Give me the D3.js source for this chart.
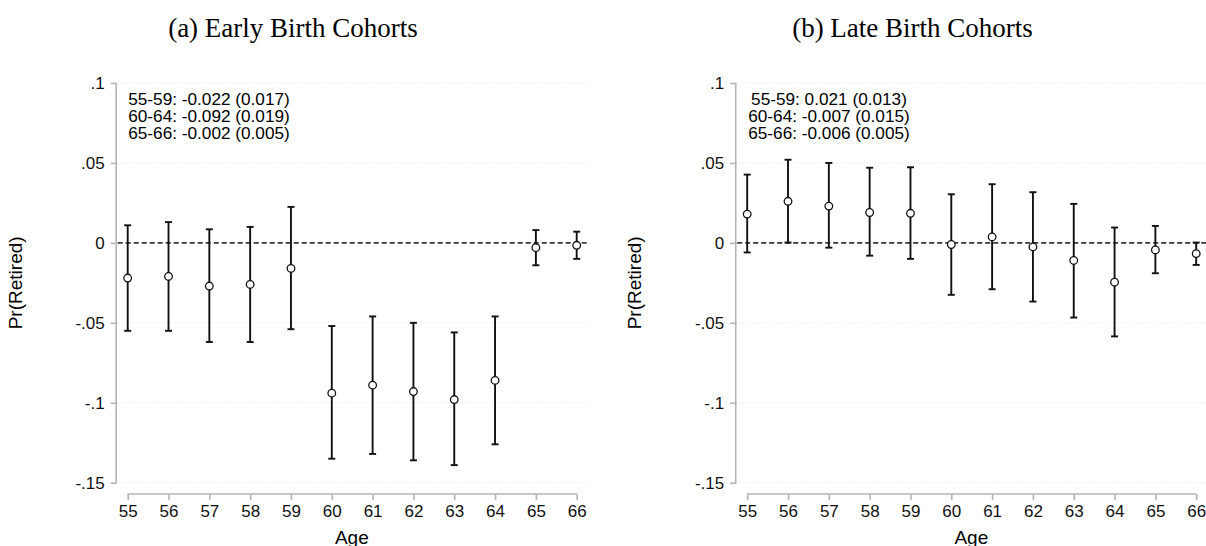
<!DOCTYPE html>
<meta charset="utf-8">
<script src="https://d3js.org/d3.v7.min.js"></script>
<style>
    body { margin: 0; background: white; }
    text { font-family: "Liberation Sans", Arial, sans-serif; fill: #000; }
    .title { font-family: "Liberation Serif", "Times New Roman", serif; font-size: 27px; }
</style>
<div id="my_dataviz"></div>
<script>
// ages on the x axis
var ages = [55, 56, 57, 58, 59, 60, 61, 62, 63, 64, 65, 66];
var yTicks = [0.1, 0.05, 0, -0.05, -0.1, -0.15];
var yTickLabels = [".1", ".05", "0", "-.05", "-.1", "-.15"];

// (a) early birth cohorts: point estimates and 95% CI
var earlyEst = [-0.022, -0.021, -0.027, -0.026, -0.016, -0.094, -0.089, -0.093, -0.098, -0.086, -0.003, -0.0015];
var earlyLo  = [-0.055, -0.055, -0.062, -0.062, -0.054, -0.135, -0.132, -0.136, -0.139, -0.126, -0.014, -0.010];
var earlyHi  = [0.011, 0.013, 0.0085, 0.010, 0.0225, -0.052, -0.046, -0.050, -0.056, -0.046, 0.008, 0.007];
var earlyNotes = ["55-59: -0.022 (0.017)", "60-64: -0.092 (0.019)", "65-66: -0.002 (0.005)"];

// (b) late birth cohorts
var lateEst = [0.018, 0.026, 0.023, 0.019, 0.0185, -0.001, 0.0037, -0.0025, -0.011, -0.0246, -0.0044, -0.0067];
var lateLo  = [-0.006, 0.0002, -0.003, -0.008, -0.010, -0.0325, -0.029, -0.0367, -0.0467, -0.0585, -0.019, -0.0138];
var lateHi  = [0.0427, 0.052, 0.050, 0.047, 0.0473, 0.0304, 0.0367, 0.0317, 0.0244, 0.0096, 0.0106, 0.0002];
var lateNotes = ["55-59: 0.021 (0.013)", "60-64: -0.007 (0.015)", "65-66: -0.006 (0.005)"];

var W = 1206, H = 546;

var svg = d3.select("#my_dataviz")
    .append("svg")
    .attr("width", W)
    .attr("height", H);

// scales shared by both panels (panel groups are shifted)
var x = d3.scaleLinear().domain([55, 66]).range([127.7, 576.7]);
var y = d3.scaleLinear().domain([-0.15, 0.1]).range([482.7, 83]);
var axisX = 116.7, gridEnd = 587, xAxisY = 494;

function drawPanel(offset, title, titleX, est, lo, hi, notes, notesX) {
    var g = svg.append("g").attr("transform", "translate(" + offset + ",0)");

    g.append("text").attr("class", "title")
        .attr("x", titleX).attr("y", 37)
        .attr("text-anchor", "middle")
        .text(title);

    // dotted gridlines
    g.append("g").selectAll("line")
        .data(yTicks.filter(function(d) { return d !== 0; }))
        .enter().append("line")
        .attr("x1", axisX + 1).attr("x2", gridEnd)
        .attr("y1", function(d) { return y(d); })
        .attr("y2", function(d) { return y(d); })
        .style("stroke", "#e4e4e4")
        .style("stroke-width", 1)
        .style("stroke-dasharray", "1,2");

    // zero reference line
    g.append("line")
        .attr("x1", axisX + 1).attr("x2", gridEnd)
        .attr("y1", y(0)).attr("y2", y(0))
        .style("stroke", "#3a3a3a")
        .style("stroke-width", 1.6)
        .style("stroke-dasharray", "5,3");

    // Y axis
    var yAxis = g.append("g")
        .attr("transform", "translate(" + axisX + ",0)")
        .call(d3.axisLeft(y).tickValues(yTicks).tickSize(6).tickPadding(6)
            .tickFormat(function(d, i) { return yTickLabels[i]; }));
    yAxis.select(".domain").attr("d", "M-0.5," + y(0.1) + "V" + y(-0.15));

    // X axis
    var xAxis = g.append("g")
        .attr("transform", "translate(0," + xAxisY + ")")
        .call(d3.axisBottom(x).tickValues(ages).tickSize(6).tickPadding(5)
            .tickFormat(d3.format("d")));
    xAxis.select(".domain").attr("d", "M" + x(55) + ",0H" + x(66));

    g.selectAll(".domain, .tick line")
        .style("stroke", "#b4b4b4")
        .style("stroke-width", 1.6);
    g.selectAll(".tick text")
        .style("font-size", "17px")
        .style("fill", "#111")
        .style("font-family", "'Liberation Sans', Arial, sans-serif");

    // axis titles
    g.append("text")
        .attr("transform", "translate(15," + ((y(0.1) + y(-0.15)) / 2) + ") rotate(-90)")
        .attr("text-anchor", "middle")
        .attr("dy", "0.35em")
        .style("font-size", "19px")
        .text("Pr(Retired)");
    g.append("text")
        .attr("x", (axisX + gridEnd) / 2).attr("y", 543.5)
        .attr("text-anchor", "middle")
        .style("font-size", "19px")
        .text("Age");

    // error bars
    var bars = g.append("g").selectAll("g")
        .data(ages)
        .enter().append("g");
    bars.append("line")
        .attr("x1", function(d) { return x(d); })
        .attr("x2", function(d) { return x(d); })
        .attr("y1", function(d, i) { return y(hi[i]); })
        .attr("y2", function(d, i) { return y(lo[i]); });
    bars.append("line")
        .attr("x1", function(d) { return x(d) - 3.5; })
        .attr("x2", function(d) { return x(d) + 3.5; })
        .attr("y1", function(d, i) { return y(hi[i]); })
        .attr("y2", function(d, i) { return y(hi[i]); });
    bars.append("line")
        .attr("x1", function(d) { return x(d) - 3.5; })
        .attr("x2", function(d) { return x(d) + 3.5; })
        .attr("y1", function(d, i) { return y(lo[i]); })
        .attr("y2", function(d, i) { return y(lo[i]); });
    bars.selectAll("line")
        .style("stroke", "#111")
        .style("stroke-width", 1.9);

    // point estimates
    g.append("g").selectAll("circle")
        .data(ages)
        .enter().append("circle")
        .attr("cx", function(d) { return x(d); })
        .attr("cy", function(d, i) { return y(est[i]); })
        .attr("r", 3.8)
        .style("fill", "white")
        .style("stroke", "#111")
        .style("stroke-width", 1.3);

    // summary notes
    g.append("g").selectAll("text")
        .data(notes)
        .enter().append("text")
        .attr("x", notesX)
        .attr("y", function(d, i) { return 104.5 + i * 17.3; })
        .attr("text-anchor", "middle")
        .style("font-size", "17.2px")
        .text(function(d) { return d; });
}

drawPanel(0, "(a) Early Birth Cohorts", 293, earlyEst, earlyLo, earlyHi, earlyNotes, 209);
drawPanel(619.5, "(b) Late Birth Cohorts", 293, lateEst, lateLo, lateHi, lateNotes, 209.5);
</script>
